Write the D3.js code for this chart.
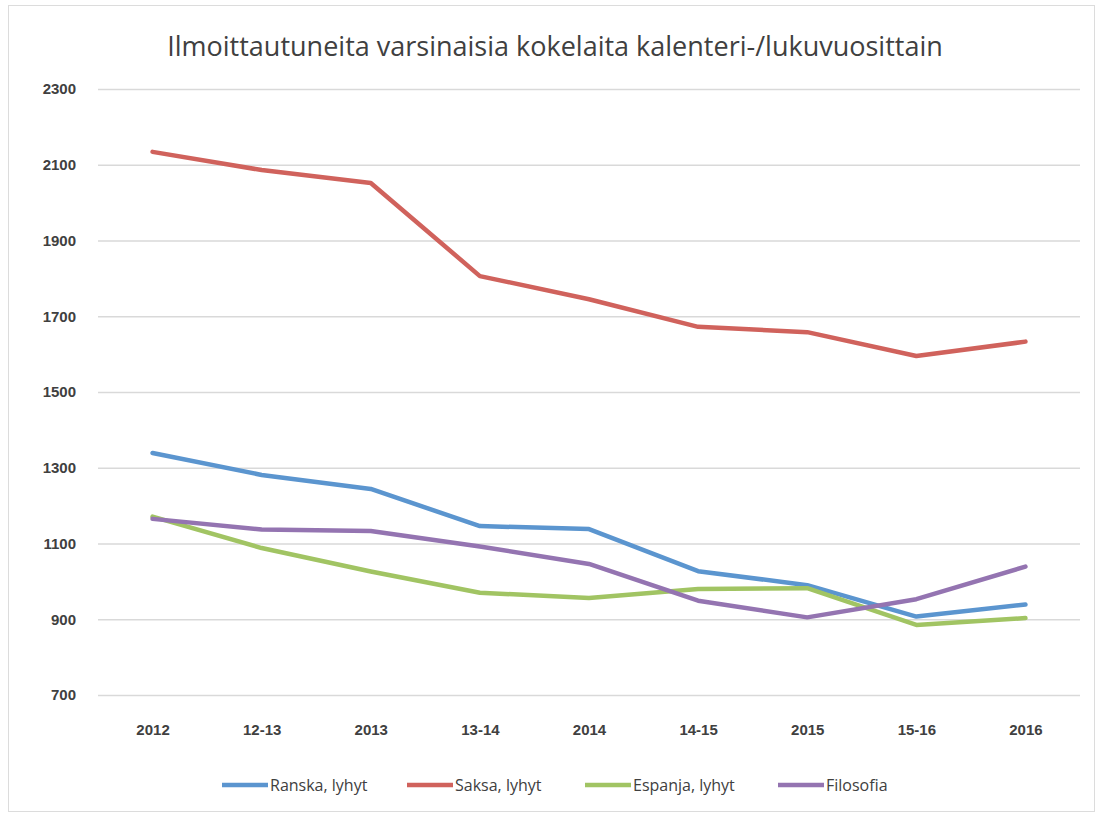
<!DOCTYPE html>
<html>
<head>
<meta charset="utf-8">
<script src="https://cdn.jsdelivr.net/npm/d3@7"></script>
<style>
  body { margin: 0; background: #fff; }
  svg { display: block; font-family: "Open Sans", sans-serif; }
</style>
</head>
<body>
<svg id="chart"></svg>
<script>
var categories = ['2012', '12-13', '2013', '13-14', '2014', '14-15', '2015', '15-16', '2016']
var yTicks = [700, 900, 1100, 1300, 1500, 1700, 1900, 2100, 2300]

var ranska = [1339, 1281, 1244, 1146, 1138, 1027, 990, 907, 939]
var saksa = [2134, 2086, 2052, 1806, 1745, 1672, 1658, 1595, 1633]
var espanja = [1171, 1088, 1026, 970, 956, 980, 982, 885, 903]
var filosofia = [1165, 1137, 1133, 1092, 1046, 949, 905, 953, 1039]

var seriesNames = ['Ranska, lyhyt', 'Saksa, lyhyt', 'Espanja, lyhyt', 'Filosofia']
var seriesColors = ['#5b95cf', '#d0625c', '#a1c463', '#9474b1']

var series = [ranska, saksa, espanja, filosofia].map(function(vals, i) {
  return { name: seriesNames[i], color: seriesColors[i], values: vals }
})

var width = 1098, height = 814
var margin = { top: 89, right: 18, bottom: 119, left: 98 }

var svg = d3.select('#chart').attr('width', width).attr('height', height)

// outer frame
svg.append('rect')
  .attr('x', 8.5).attr('y', 5.5)
  .attr('width', width - 12).attr('height', height - 8)
  .attr('fill', 'none').attr('stroke', '#dcdcdc')

var x = d3.scalePoint()
  .domain(categories)
  .range([margin.left, width - margin.right])
  .padding(0.5)

var y = d3.scaleLinear()
  .domain([700, 2300])
  .range([height - margin.bottom, margin.top])

// title
svg.append('text')
  .attr('x', 555).attr('y', 56)
  .attr('text-anchor', 'middle')
  .attr('font-size', 27)
  .attr('fill', '#404040')
  .text('Ilmoittautuneita varsinaisia kokelaita kalenteri-/lukuvuosittain')

// gridlines + y labels
var yAxis = d3.axisLeft(y)
  .tickValues(yTicks)
  .tickSize(-(width - margin.left - margin.right))
  .tickPadding(22)
  .tickFormat(d3.format('d'))

svg.append('g')
  .attr('transform', 'translate(' + margin.left + ',0)')
  .call(yAxis)
  .call(function(g) { g.select('.domain').remove() })
  .call(function(g) {
    g.selectAll('.tick line').attr('stroke', '#d9d9d9').attr('stroke-width', 1.5)
    g.selectAll('.tick text')
      .attr('font-size', 15).attr('font-weight', 'bold')
      .attr('font-family', 'sans-serif')
      .attr('fill', '#404040')
  })

// x labels
var xAxis = d3.axisBottom(x).tickSize(0).tickPadding(29)
svg.append('g')
  .attr('transform', 'translate(0,' + (height - margin.bottom) + ')')
  .call(xAxis)
  .call(function(g) { g.select('.domain').remove() })
  .call(function(g) {
    g.selectAll('.tick text')
      .attr('font-size', 15).attr('font-weight', 'bold')
      .attr('font-family', 'sans-serif')
      .attr('fill', '#404040')
  })

var line = d3.line()
  .x(function(d, i) { return x(categories[i]) })
  .y(function(d) { return y(d) })

svg.append('g').selectAll('path')
  .data(series)
  .join('path')
  .attr('d', function(d) { return line(d.values) })
  .attr('fill', 'none')
  .attr('stroke', function(d) { return d.color })
  .attr('stroke-width', 4.5)
  .attr('stroke-linejoin', 'round')
  .attr('stroke-linecap', 'round')

// legend
var legendX = [222, 407, 585, 778]
var legend = svg.append('g').selectAll('g')
  .data(series)
  .join('g')
  .attr('transform', function(d, i) { return 'translate(' + legendX[i] + ',785)' })

legend.append('line')
  .attr('x1', 0).attr('x2', 46)
  .attr('stroke', function(d) { return d.color })
  .attr('stroke-width', 4.5)

legend.append('text')
  .attr('x', 48).attr('y', 6)
  .attr('font-size', 16)
  .attr('fill', '#404040')
  .text(function(d) { return d.name })
</script>
</body>
</html>
